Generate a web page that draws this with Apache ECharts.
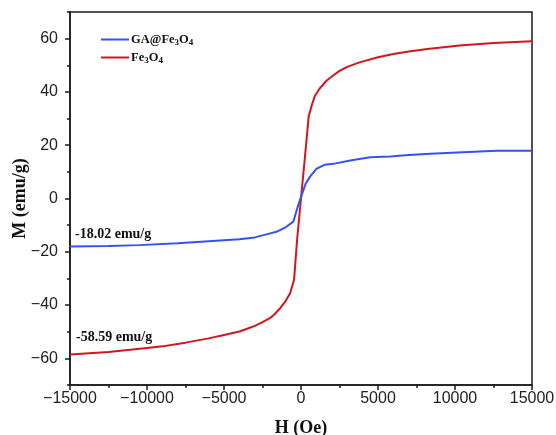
<!DOCTYPE html>
<html>
<head>
<meta charset="utf-8">
<script src="https://cdn.jsdelivr.net/npm/echarts@6/dist/echarts.min.js"></script>
<style>
  html, body { margin: 0; padding: 0; background: #fff; }
  #chart { width: 556px; height: 435px; }
</style>
</head>
<body>
<div id="chart"></div>
<script>
// Hysteresis loops: magnetisation M (emu/g) versus applied field H (Oe)
const fieldFe3O4 = [-15000, -12500, -10000, -9000, -7500, -6000, -5000, -4000, -3500, -3000, -2500, -2000, -1800, -1400, -1000, -700, -450, -250, 0, 250, 500, 700, 900, 1200, 1650, 2000, 2500, 3000, 3800, 5000, 6000, 7000, 8200, 10300, 12500, 15000];
const momentFe3O4 = [-58.59, -57.6, -56.1, -55.5, -54.1, -52.5, -51.2, -49.9, -48.9, -47.8, -46.4, -44.8, -43.9, -41.5, -38.5, -35.5, -30.5, -15.3, 0, 15.2, 30.9, 35.0, 38.5, 41.2, 44.2, 45.8, 47.9, 49.4, 51.1, 53.0, 54.2, 55.2, 56.1, 57.4, 58.4, 59.0];

const fieldGA = [-15000, -12500, -10500, -8000, -6000, -4000, -3000, -2000, -1600, -1000, -500, -175, 50, 300, 600, 1000, 1550, 2100, 3200, 4500, 5800, 7000, 8400, 10500, 12700, 15000];
const momentGA = [-18.02, -17.8, -17.5, -16.8, -16.0, -15.3, -14.6, -13.1, -12.5, -10.8, -8.7, -2.4, 1.4, 5.5, 8.3, 11.1, 12.7, 13.0, 14.3, 15.5, 15.8, 16.3, 16.8, 17.4, 17.9, 17.9];

const xTicks = [-15000, 15000, 5000];
const yMajorTicks = [-60, -40, -20, 0, 20, 40, 60];
const yRange = [-70, 70];

const seriesNames = ['GA@Fe3O4', 'Fe3O4'];
const satLabels = ['-18.02 emu/g', '-58.59 emu/g'];

const pairs = (hs, ms) => hs.map((h, i) => [h, ms[i]]);

const SERIF = '"Liberation Serif", "Times New Roman", serif';
const SANS = '"Liberation Sans", Arial, sans-serif';
const AXIS_COLOR = '#1a1a1a';

const chart = echarts.init(document.getElementById('chart'), null, { renderer: 'canvas' });

const legendRich = {
  a: { fontFamily: SERIF, fontWeight: 'bold', fontSize: 12.5, color: '#111' },
  s: { fontFamily: SERIF, fontWeight: 'bold', fontSize: 9, color: '#111', padding: [6, 0, 0, 0] }
};

chart.setOption({
  animation: false,
  backgroundColor: '#fff',
  grid: {
    left: 70, right: 24, top: 12, bottom: 50,
    outerBoundsMode: 'none',
    containLabel: false,
    show: true, borderColor: AXIS_COLOR, borderWidth: 1.5
  },
  legend: {
    orient: 'vertical',
    left: 101, top: 33,
    padding: 0,
    itemGap: 4,
    itemWidth: 28, itemHeight: 2,
    icon: 'rect',
    data: seriesNames,
    formatter: name => name.replace(/(\d)/g, '}{s|$1}{a|').replace(/^/, '{a|') + '}',
    textStyle: { rich: legendRich, padding: [0, 0, 0, -3] }
  },
  xAxis: {
    type: 'value',
    min: xTicks[0], max: xTicks[1], interval: xTicks[2],
    name: 'H (Oe)',
    nameLocation: 'middle',
    nameGap: 34,
    nameTextStyle: { fontFamily: SERIF, fontWeight: 'bold', fontSize: 18, color: '#111' },
    axisLine: { show: true, onZero: false, lineStyle: { color: AXIS_COLOR, width: 1.5 } },
    axisTick: { show: true, inside: false, length: 5, lineStyle: { color: AXIS_COLOR, width: 1.5 } },
    minorTick: { show: true, splitNumber: 2, length: 3, lineStyle: { color: AXIS_COLOR, width: 1.5 } },
    splitLine: { show: false },
    axisLabel: {
      margin: 6,
      fontFamily: SANS, fontSize: 16, color: '#222',
      formatter: v => String(v).replace('-', '\u2212')
    }
  },
  yAxis: [{
    type: 'value',
    min: yRange[0], max: yRange[1], interval: 10,
    name: 'M (emu/g)',
    nameLocation: 'middle',
    nameGap: 41,
    nameMoveOverlap: false,
    nameRotate: 90,
    nameTextStyle: { fontFamily: SERIF, fontWeight: 'bold', fontSize: 18, color: '#111' },
    axisLine: { show: true, onZero: false, lineStyle: { color: AXIS_COLOR, width: 1.5 } },
    axisTick: { show: true, inside: false, length: 5, customValues: yMajorTicks, lineStyle: { color: AXIS_COLOR, width: 1.5 } },
    splitLine: { show: false },
    axisLabel: {
      margin: 12,
      customValues: yMajorTicks,
      fontFamily: SANS, fontSize: 16, color: '#222',
      formatter: v => String(v).replace('-', '\u2212')
    }
  }, {
    // minor ticks every 10 emu/g
    type: 'value',
    position: 'left',
    min: yRange[0], max: yRange[1], interval: 10,
    axisLine: { show: false, onZero: false },
    axisTick: { show: true, inside: false, length: 3, lineStyle: { color: AXIS_COLOR, width: 1.5 } },
    axisLabel: { show: false },
    splitLine: { show: false }
  }],
  series: [
    {
      name: seriesNames[0],
      type: 'line',
      data: pairs(fieldGA, momentGA),
      showSymbol: false,
      symbol: 'none',
      lineStyle: { color: '#3352f5', width: 2 },
      itemStyle: { color: '#3352f5' },
      z: 3,
      markPoint: {
        symbol: 'circle', symbolSize: 0,
        data: [{ coord: [fieldGA[0], momentGA[0]] }],
        label: {
          show: true, position: 'right', distance: 0, offset: [5, -12],
          formatter: satLabels[0],
          fontFamily: SERIF, fontWeight: 'bold', fontSize: 14, color: '#111'
        }
      }
    },
    {
      name: seriesNames[1],
      type: 'line',
      data: pairs(fieldFe3O4, momentFe3O4),
      showSymbol: false,
      symbol: 'none',
      lineStyle: { color: '#d0161e', width: 2 },
      itemStyle: { color: '#d0161e' },
      z: 2,
      markPoint: {
        symbol: 'circle', symbolSize: 0,
        data: [{ coord: [fieldFe3O4[0], momentFe3O4[0]] }],
        label: {
          show: true, position: 'right', distance: 0, offset: [6, -17],
          formatter: satLabels[1],
          fontFamily: SERIF, fontWeight: 'bold', fontSize: 14, color: '#111'
        }
      }
    }
  ]
});
</script>
</body>
</html>
